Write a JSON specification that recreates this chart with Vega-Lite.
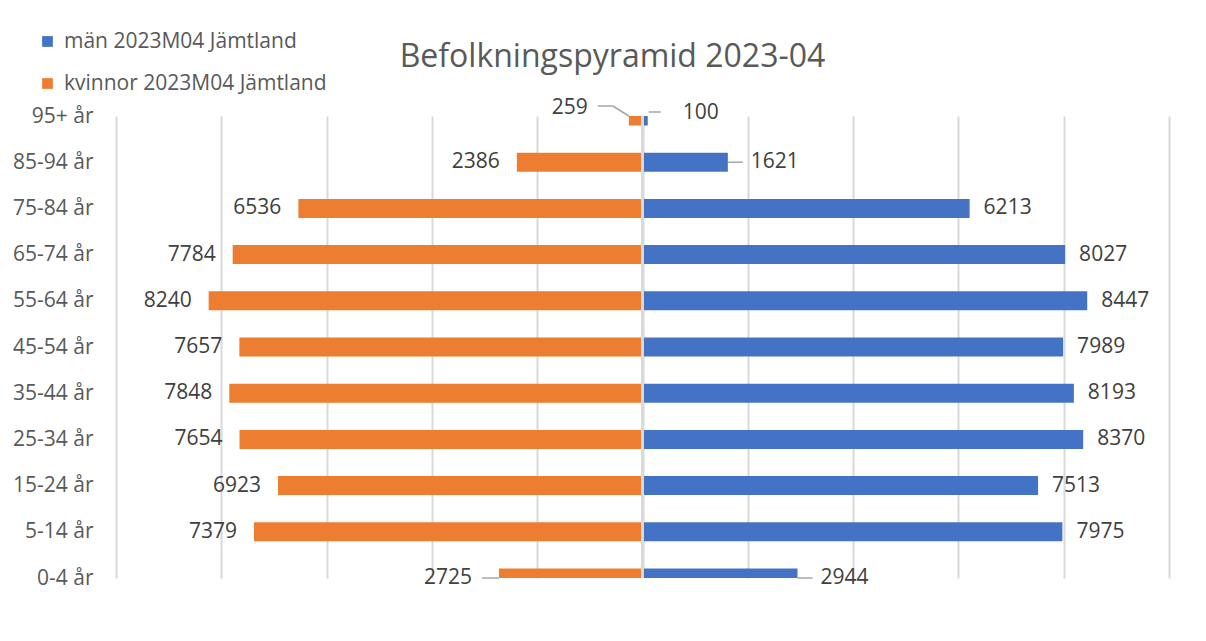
{
  "$schema": "https://vega.github.io/schema/vega-lite/v6.json",
  "width": 1053,
  "height": 462,
  "autosize": {"type": "none"},
  "padding": {"left": 116, "top": 116, "right": 37, "bottom": 63},
  "background": "white",
  "config": {
    "font": "Open Sans",
    "view": {"stroke": null},
    "text": {"font": "Open Sans", "fontSize": 21, "color": "#404040"}
  },
  "title": {
    "text": "Befolkningspyramid 2023-04",
    "fontSize": 32,
    "fontWeight": "normal",
    "color": "#595959",
    "font": "Open Sans",
    "anchor": "middle",
    "frame": "group",
    "dx": -30,
    "offset": -68,
    "baseline": "alphabetic"
  },
  "data": {
    "values": [
      {"age": "95+ år", "sex": "män 2023M04 Jämtland", "value": 100},
      {"age": "85-94 år", "sex": "män 2023M04 Jämtland", "value": 1621},
      {"age": "75-84 år", "sex": "män 2023M04 Jämtland", "value": 6213},
      {"age": "65-74 år", "sex": "män 2023M04 Jämtland", "value": 8027},
      {"age": "55-64 år", "sex": "män 2023M04 Jämtland", "value": 8447},
      {"age": "45-54 år", "sex": "män 2023M04 Jämtland", "value": 7989},
      {"age": "35-44 år", "sex": "män 2023M04 Jämtland", "value": 8193},
      {"age": "25-34 år", "sex": "män 2023M04 Jämtland", "value": 8370},
      {"age": "15-24 år", "sex": "män 2023M04 Jämtland", "value": 7513},
      {"age": "5-14 år", "sex": "män 2023M04 Jämtland", "value": 7975},
      {"age": "0-4 år", "sex": "män 2023M04 Jämtland", "value": 2944},
      {"age": "95+ år", "sex": "kvinnor 2023M04 Jämtland", "value": 259},
      {"age": "85-94 år", "sex": "kvinnor 2023M04 Jämtland", "value": 2386},
      {"age": "75-84 år", "sex": "kvinnor 2023M04 Jämtland", "value": 6536},
      {"age": "65-74 år", "sex": "kvinnor 2023M04 Jämtland", "value": 7784},
      {"age": "55-64 år", "sex": "kvinnor 2023M04 Jämtland", "value": 8240},
      {"age": "45-54 år", "sex": "kvinnor 2023M04 Jämtland", "value": 7657},
      {"age": "35-44 år", "sex": "kvinnor 2023M04 Jämtland", "value": 7848},
      {"age": "25-34 år", "sex": "kvinnor 2023M04 Jämtland", "value": 7654},
      {"age": "15-24 år", "sex": "kvinnor 2023M04 Jämtland", "value": 6923},
      {"age": "5-14 år", "sex": "kvinnor 2023M04 Jämtland", "value": 7379},
      {"age": "0-4 år", "sex": "kvinnor 2023M04 Jämtland", "value": 2725}
    ]
  },
  "encoding": {
    "y": {
      "field": "age",
      "type": "ordinal",
      "sort": ["95+ år", "85-94 år", "75-84 år", "65-74 år", "55-64 år", "45-54 år", "35-44 år", "25-34 år", "15-24 år", "5-14 år", "0-4 år"],
      "scale": {"type": "point", "padding": 0},
      "axis": {
        "title": null,
        "domain": false,
        "ticks": false,
        "grid": false,
        "labelPadding": 23,
        "labelFontSize": 21,
        "labelFont": "Open Sans",
        "labelColor": "#595959"
      }
    }
  },
  "layer": [
    {
      "transform": [{"filter": "datum.sex === 'kvinnor 2023M04 Jämtland'"}],
      "encoding": {
        "x": {
          "field": "value",
          "type": "quantitative",
          "scale": {"domain": [-10000, 10000], "reverse": true, "nice": false, "zero": false},
          "axis": null
        }
      },
      "layer": [
        {
          "mark": {"type": "bar", "height": 19, "clip": true},
          "encoding": {
            "color": {
              "field": "sex",
              "type": "nominal",
              "scale": {"domain": ["män 2023M04 Jämtland", "kvinnor 2023M04 Jämtland"], "range": ["#4472C4", "#ED7D31"]},
              "legend": {
                "title": null,
                "orient": "none",
                "legendX": -79,
                "legendY": -85,
                "symbolType": "square",
                "symbolSize": 115,
                "symbolStrokeWidth": 0,
                "labelFontSize": 21,
                "labelFont": "Open Sans",
                "labelColor": "#595959",
                "labelLimit": 500,
                "rowPadding": 20,
                "labelOffset": 6
              }
            }
          }
        },
        {
          "transform": [{"filter": "datum.age !== '95+ år' && datum.age !== '0-4 år'"}],
          "mark": {"type": "text", "align": "right", "baseline": "middle", "dx": -17},
          "encoding": {"text": {"field": "value", "type": "quantitative", "format": "d"}}
        },
        {
          "transform": [{"filter": "datum.age === '95+ år'"}],
          "mark": {"type": "text", "align": "right", "baseline": "middle", "dx": -41, "dy": -8},
          "encoding": {"text": {"field": "value", "type": "quantitative", "format": "d"}}
        },
        {
          "transform": [{"filter": "datum.age === '0-4 år'"}],
          "mark": {"type": "text", "align": "right", "baseline": "middle", "dx": -27},
          "encoding": {"text": {"field": "value", "type": "quantitative", "format": "d"}}
        },
        {
          "transform": [{"filter": "datum.age === '0-4 år'"}],
          "mark": {"type": "rule", "color": "#a6a6a6", "strokeWidth": 1.5, "x2Offset": -17},
          "encoding": {"x2": {"field": "value"}}
        },
        {
          "transform": [{"filter": "datum.age === '95+ år'"}],
          "mark": {"type": "rule", "color": "#a6a6a6", "strokeWidth": 1.5, "x2Offset": -16, "y2Offset": -10},
          "encoding": {"x2": {"field": "value"}, "y2": {"field": "age"}}
        },
        {
          "transform": [{"filter": "datum.age === '95+ år'"}],
          "mark": {"type": "rule", "color": "#a6a6a6", "strokeWidth": 1.5, "xOffset": -16, "x2Offset": -31, "yOffset": -10},
          "encoding": {"x2": {"field": "value"}}
        }
      ]
    },
    {
      "transform": [{"filter": "datum.sex === 'män 2023M04 Jämtland'"}],
      "encoding": {
        "x": {
          "field": "value",
          "type": "quantitative",
          "scale": {"domain": [-10000, 10000], "nice": false, "zero": false},
          "axis": {
            "title": null,
            "labels": false,
            "ticks": false,
            "domain": false,
            "grid": true,
            "values": [-10000, -8000, -6000, -4000, -2000, 0, 2000, 4000, 6000, 8000, 10000],
            "gridColor": "#d9d9d9",
            "gridWidth": 2
          }
        }
      },
      "layer": [
        {
          "mark": {"type": "bar", "height": 19, "clip": true},
          "encoding": {"color": {"field": "sex", "type": "nominal"}}
        },
        {
          "transform": [{"filter": "datum.age !== '95+ år' && datum.age !== '0-4 år' && datum.age !== '85-94 år'"}],
          "mark": {"type": "text", "align": "left", "baseline": "middle", "dx": 14},
          "encoding": {"text": {"field": "value", "type": "quantitative", "format": "d"}}
        },
        {
          "transform": [{"filter": "datum.age === '95+ år'"}],
          "mark": {"type": "text", "align": "left", "baseline": "middle", "dx": 35, "dy": -3},
          "encoding": {"text": {"field": "value", "type": "quantitative", "format": "d"}}
        },
        {
          "transform": [{"filter": "datum.age === '0-4 år' || datum.age === '85-94 år'"}],
          "mark": {"type": "text", "align": "left", "baseline": "middle", "dx": 23},
          "encoding": {"text": {"field": "value", "type": "quantitative", "format": "d"}}
        },
        {
          "transform": [{"filter": "datum.age === '0-4 år' || datum.age === '85-94 år'"}],
          "mark": {"type": "rule", "color": "#a6a6a6", "strokeWidth": 1.5, "x2Offset": 15},
          "encoding": {"x2": {"field": "value"}}
        },
        {
          "transform": [{"filter": "datum.age === '95+ år'"}],
          "mark": {"type": "rule", "color": "#a6a6a6", "strokeWidth": 1.5, "xOffset": 1, "x2Offset": 13, "yOffset": -4},
          "encoding": {"x2": {"field": "value"}}
        },
        {
          "mark": {"type": "rule", "color": "#d9d9d9", "strokeWidth": 1.5},
          "encoding": {"x": {"datum": 0}, "y": null}
        }
      ]
    }
  ],
  "resolve": {"scale": {"x": "independent"}}
}
